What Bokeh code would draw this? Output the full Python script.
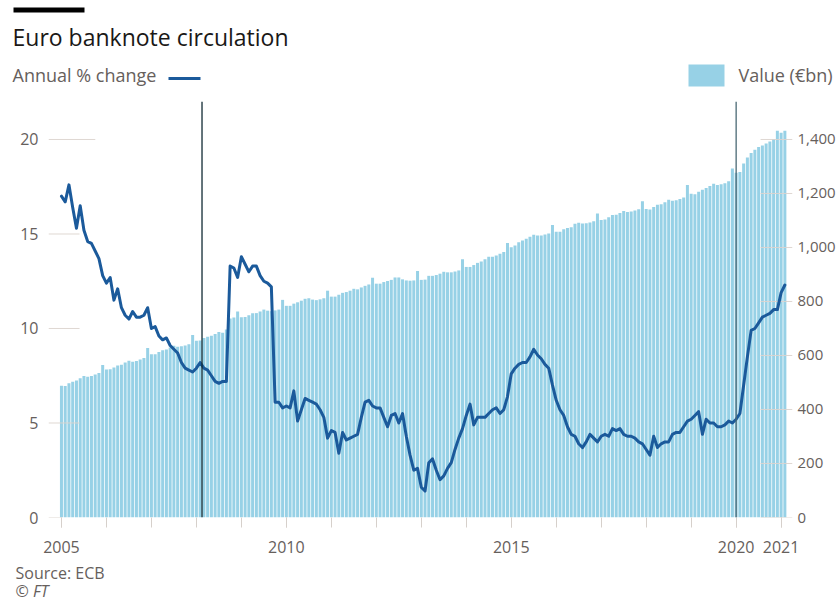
from bokeh.plotting import figure
from bokeh.layouts import column
from bokeh.models import (Range1d, LinearAxis, FixedTicker, NumeralTickFormatter, Span)
from bokeh.core.properties import value
from bokeh.embed import file_html
from bokeh.resources import INLINE

# ---------------- data (monthly, Jan 2005 - Feb 2021) ----------------
start_year = 2005

annual_pct_change = [
    # 2005
    17.0, 16.7, 17.6, 16.4, 15.3, 16.5, 15.2, 14.6, 14.5, 14.1, 13.7, 12.8,
    # 2006
    12.4, 12.7, 11.5, 12.1, 11.1, 10.7, 10.5, 10.9, 10.6, 10.6, 10.7, 11.1,
    # 2007
    10.0, 10.1, 9.6, 9.4, 9.5, 9.1, 8.9, 8.7, 8.2, 7.9, 7.8, 7.7,
    # 2008
    7.9, 8.2, 7.9, 7.8, 7.5, 7.2, 7.1, 7.2, 7.2, 13.3, 13.2, 12.7,
    # 2009
    13.8, 13.4, 13.0, 13.3, 13.3, 12.8, 12.5, 12.4, 12.2, 6.1, 6.1, 5.8,
    # 2010
    5.9, 5.8, 6.7, 5.1, 5.7, 6.3, 6.2, 6.1, 6.0, 5.7, 5.3, 4.2,
    # 2011
    4.6, 4.5, 3.4, 4.5, 4.1, 4.2, 4.3, 4.4, 5.3, 6.1, 6.2, 5.9,
    # 2012
    5.8, 5.8, 5.3, 4.8, 5.4, 5.5, 5.0, 5.5, 4.3, 3.3, 2.5, 2.6,
    # 2013
    1.6, 1.4, 2.9, 3.1, 2.5, 2.0, 2.2, 2.6, 2.9, 3.6, 4.2, 4.7,
    # 2014
    5.4, 6.0, 4.9, 5.3, 5.3, 5.3, 5.5, 5.7, 5.8, 5.5, 5.7, 6.4,
    # 2015
    7.6, 7.9, 8.1, 8.2, 8.2, 8.5, 8.9, 8.6, 8.4, 8.1, 7.9, 7.0,
    # 2016
    6.2, 5.7, 5.4, 4.8, 4.4, 4.3, 3.9, 3.7, 4.0, 4.4, 4.2, 4.0,
    # 2017
    4.3, 4.4, 4.3, 4.7, 4.6, 4.7, 4.4, 4.3, 4.3, 4.2, 4.0, 3.9,
    # 2018
    3.6, 3.3, 4.3, 3.7, 3.9, 4.0, 4.0, 4.4, 4.5, 4.5, 4.8, 5.1,
    # 2019
    5.2, 5.4, 5.6, 4.4, 5.2, 5.0, 5.0, 4.8, 4.8, 4.9, 5.1, 5.0,
    # 2020
    5.2, 5.5, 7.0, 8.5, 9.9, 10.0, 10.3, 10.6, 10.7, 10.8, 11.0, 11.0,
    # 2021
    11.9, 12.3,
]

value_bn = [
    # 2005
    488, 487, 497, 503, 507, 516, 524, 521, 524, 530, 535, 565,
    # 2006
    548, 549, 556, 563, 566, 574, 581, 577, 580, 585, 591, 628,
    # 2007
    605, 605, 613, 619, 622, 630, 636, 632, 634, 637, 642, 676,
    # 2008
    655, 656, 665, 669, 673, 680, 687, 684, 696, 737, 741, 763,
    # 2009
    742, 743, 749, 756, 757, 763, 770, 766, 764, 767, 770, 806,
    # 2010
    784, 784, 792, 797, 803, 810, 812, 807, 805, 808, 812, 840,
    # 2011
    818, 818, 825, 832, 835, 840, 847, 845, 852, 858, 863, 888,
    # 2012
    866, 866, 872, 876, 880, 889, 889, 882, 878, 877, 878, 913,
    # 2013
    880, 881, 895, 895, 898, 903, 910, 908, 908, 911, 915, 956,
    # 2014
    928, 928, 935, 943, 948, 956, 966, 966, 970, 977, 983, 1017,
    # 2015
    1001, 1007, 1019, 1026, 1032, 1040, 1047, 1044, 1044, 1048, 1052, 1083,
    # 2016
    1058, 1058, 1068, 1072, 1075, 1088, 1092, 1089, 1090, 1093, 1097, 1126,
    # 2017
    1102, 1104, 1112, 1120, 1121, 1128, 1135, 1131, 1133, 1137, 1142, 1171,
    # 2018
    1143, 1141, 1150, 1158, 1160, 1168, 1177, 1173, 1175, 1180, 1185, 1231,
    # 2019
    1199, 1197, 1206, 1214, 1220, 1228, 1236, 1231, 1234, 1238, 1245, 1293,
    # 2020
    1277, 1280, 1311, 1333, 1350, 1362, 1372, 1378, 1385, 1393, 1402, 1432,
    # 2021
    1425, 1432,
]

dates = [start_year + i / 12 for i in range(len(value_bn))]

pct_ticks = [0, 5, 10, 15, 20]
value_ticks = [0, 200, 400, 600, 800, 1000, 1200, 1400]
labelled_years = [2005, 2010, 2015, 2020, 2021]
all_years = list(range(2005, 2022))
event_dates = [2008.125, 2020.0]

title_text = "Euro banknote circulation"
line_legend_text = "Annual % change"
bar_legend_text = "Value (€bn)"
source_text = "Source: ECB"
credit_text = "© FT"

# ---------------- styling ----------------
FONT = "Open Sans"
GREY = "#66605c"
BAR = "#97d1e6"
LINE = "#1b5a9b"
GRID = "#dcd4ce"
W = 838


def blank(height, top):
    """A figure whose frame is the whole canvas, in page pixels (y down)."""
    f = figure(width=W, height=height, output_backend="svg", toolbar_location=None,
               x_range=Range1d(0, W), y_range=Range1d(top + height, top),
               x_axis_type=None, y_axis_type=None, min_border=0)
    f.outline_line_color = None
    f.grid.visible = False
    f.frame_align = False
    return f


def txt(f, x, y, s, size, color, style="normal"):
    f.text(x=[x], y=[y], text=[s], text_font=value(FONT), text_font_size=value(size),
           text_color=color, text_font_style=style, text_baseline="middle",
           text_align="left")


# ---------------- header ----------------
HEAD_H = 101
head = blank(HEAD_H, 0)
head.quad(left=[13], right=[84], top=[7], bottom=[12], fill_color="#000000", line_color=None)
txt(head, 12, 36, title_text, "23px", "#1a1817")
txt(head, 12, 74, line_legend_text, "18px", GREY)
head.segment(x0=[168], x1=[200], y0=[78], y1=[78], line_color=LINE, line_width=3)
head.quad(left=[688], right=[724], top=[64], bottom=[86], fill_color=BAR, line_color=None)
txt(head, 738, 74, bar_legend_text, "18px", GREY)

# ---------------- main chart ----------------
X_START, X_END = 2004.712, 2021.253
PCT_TOP = 22.01
VAL_TOP = PCT_TOP * 70
FRAME_H = 416
MAIN_H = FRAME_H + 44

p = figure(width=W, height=MAIN_H, output_backend="svg", toolbar_location=None,
           x_range=Range1d(X_START, X_END), y_range=Range1d(0, PCT_TOP),
           min_border_left=48, min_border_right=44, min_border_top=0,
           min_border_bottom=MAIN_H - FRAME_H)
p.outline_line_color = None
p.grid.visible = False
p.frame_align = False
p.extra_y_ranges = {"value": Range1d(0, VAL_TOP)}

xa = p.xaxis[0]
xa.ticker = FixedTicker(ticks=labelled_years, minor_ticks=all_years)
xa.axis_line_color = None
xa.major_tick_in = 0
xa.major_tick_out = 10
xa.minor_tick_in = 0
xa.minor_tick_out = 10
xa.major_tick_line_color = "#d6d0cb"
xa.minor_tick_line_color = "#d6d0cb"
xa.major_label_standoff = 13
xa.major_label_text_font = FONT
xa.major_label_text_font_size = "16px"
xa.major_label_text_color = GREY

ya = p.yaxis[0]
ya.ticker = FixedTicker(ticks=pct_ticks)
ya.axis_line_color = None
ya.major_tick_in = 0
ya.major_tick_out = 0
ya.minor_tick_line_color = None
ya.major_label_standoff = 10
ya.major_label_text_font = FONT
ya.major_label_text_font_size = "16px"
ya.major_label_text_color = GREY

ra = LinearAxis(y_range_name="value", ticker=FixedTicker(ticks=value_ticks),
                formatter=NumeralTickFormatter(format="0,0"))
ra.axis_line_color = None
ra.major_tick_in = 0
ra.major_tick_out = 0
ra.minor_tick_line_color = None
ra.major_label_standoff = 5
ra.major_label_text_font = FONT
ra.major_label_text_font_size = "15px"
ra.major_label_text_color = GREY
p.add_layout(ra, "right")

p.vbar(x=dates, top=value_bn, bottom=0, width=0.8 / 12, y_range_name="value",
       fill_color=BAR, line_color=None)

left_len = [0.27, 0.69, 0.69, 0.69, 1.04]
p.segment(x0=[X_START] * len(pct_ticks), x1=[X_START + l for l in left_len],
          y0=pct_ticks, y1=pct_ticks, line_color=GRID, line_width=1, line_alpha=0.9)
p.segment(x0=[X_END - 0.71] * len(value_ticks), x1=[X_END] * len(value_ticks),
          y0=value_ticks, y1=value_ticks, y_range_name="value",
          line_color=GRID, line_width=1, line_alpha=0.9)

p.line(dates, annual_pct_change, line_width=3, line_color=LINE,
       line_join="round", line_cap="round")

for d, c in zip(event_dates, ["#102a33", "#4a6874"]):
    p.add_layout(Span(location=d, dimension="height", line_color=c, line_width=1.3))

# ---------------- footer ----------------
FOOT_TOP = HEAD_H + MAIN_H
FOOT_H = 600 - FOOT_TOP
foot = blank(FOOT_H, FOOT_TOP)
txt(foot, 15, 572, source_text, "16px", GREY)
txt(foot, 15, 590, credit_text, "16px", GREY, "italic")

layout = column(head, p, foot, spacing=0)
open("out.html", "w").write(file_html(layout, INLINE))
